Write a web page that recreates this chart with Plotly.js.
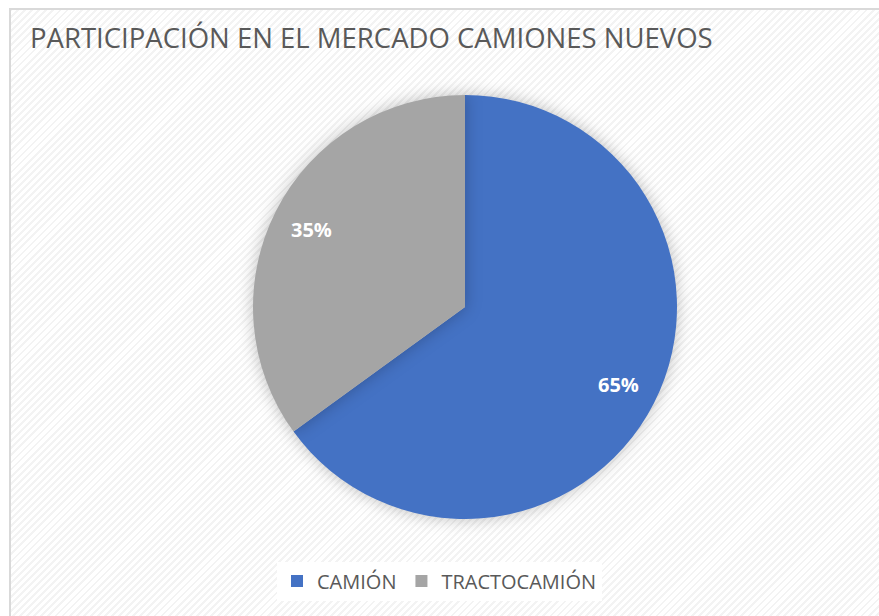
<!DOCTYPE html>
<html><head><meta charset="utf-8">
<script src="https://cdn.plot.ly/plotly-3.0.1.min.js"></script>
<style>
html,body{margin:0;padding:0;background:#fff;}
#wrap{position:relative;width:879px;height:616px;overflow:hidden;background:#fff;}
#frame{position:absolute;left:9px;top:8px;width:900px;height:640px;border:2px solid #d9d9d9;
background:repeating-linear-gradient(-45deg,#ffffff 0px,#ffffff 3px,#f3f3f3 3px,#f3f3f3 5px);}
#chart{position:absolute;left:0;top:0;width:879px;height:616px;}
.pielayer .slice path.surface{filter:drop-shadow(0px 0px 8px rgba(0,0,0,0.25));}
</style></head>
<body><div id="wrap"><div id="frame"></div><div id="chart"></div></div>
<script>
var categories = ["CAMIÓN", "TRACTOCAMIÓN"];
var shares = [65, 35];
var colors = ["#4472C4", "#A5A5A5"];
var title = "PARTICIPACIÓN EN EL MERCADO CAMIONES NUEVOS";

var W = 879, H = 616;
var dom = {x: [253/W, 677/W], y: [97/H, 521/H]};

// label positions: along each slice's mid-angle at 0.81 of the radius (clockwise from 12 o'clock)
var total = shares.reduce(function(a,b){return a+b;}, 0);
var cx = (dom.x[0]+dom.x[1])/2 * W, cy = (1-(dom.y[0]+dom.y[1])/2) * H;
var R = (dom.x[1]-dom.x[0]) * W / 2;
var cum = 0, annotations = [];
shares.forEach(function(v){
  var mid = (cum + v/2) / total * 2 * Math.PI;
  cum += v;
  var px = cx + 0.81 * R * Math.sin(mid), py = cy - 0.81 * R * Math.cos(mid);
  annotations.push({xref:'paper', yref:'paper', x: px/W, y: 1 - py/H, showarrow:false,
    xanchor:'center', yanchor:'middle',
    text: Math.round(v/total*100) + '%',
    font:{family:'Open Sans, sans-serif', size:20, color:'#ffffff', weight:'bold'}});
});

Plotly.newPlot('chart', [{
  type: 'pie',
  labels: categories,
  values: shares,
  sort: false,
  direction: 'clockwise',
  rotation: 0,
  marker: {colors: colors, line: {width: 0}},
  textinfo: 'none',
  hoverinfo: 'none',
  domain: dom
}], {
  width: W, height: H,
  margin: {l: 0, r: 0, t: 0, b: 0},
  paper_bgcolor: 'rgba(0,0,0,0)',
  plot_bgcolor: 'rgba(0,0,0,0)',
  title: {text: title, x: 30/W, xanchor: 'left', y: 1 - 38/H, yanchor: 'middle',
          font: {family: 'Open Sans, sans-serif', size: 27.5, color: '#595959'}},
  annotations: annotations,
  showlegend: true,
  legend: {orientation: 'h', x: 0.5, xanchor: 'center', y: 1 - 581/H, yanchor: 'middle',
           font: {family: 'Open Sans, sans-serif', size: 20, color: '#595959'},
           bgcolor: '#ffffff', itemwidth: 30, traceorder: 'normal'}
}, {displayModeBar: false, staticPlot: true});
</script></body></html>
